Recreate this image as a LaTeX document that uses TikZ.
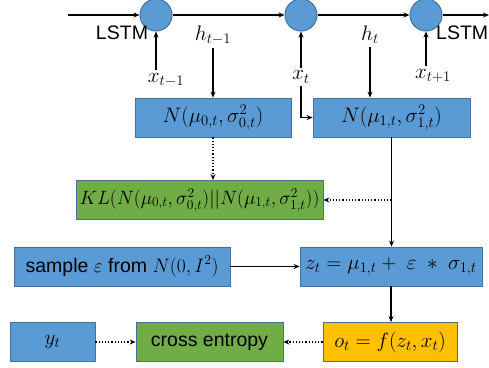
\RequirePackage{fix-cm}
\documentclass[tikz,border=0pt]{standalone}
\usepackage{amsmath}
\usepackage{fontspec}
\setmainfont{Liberation Sans}
\usetikzlibrary{arrows.meta}
\definecolor{boxblue}{HTML}{5B9BD5}
\definecolor{boxgreen}{HTML}{70AD47}
\definecolor{boxyellow}{HTML}{FFC000}
\definecolor{boxline}{HTML}{41719C}
\tikzstyle{mybox} = [draw=boxline, line width=0.8pt, rectangle,
    inner sep=0pt, minimum height=39pt, font=\fontsize{19.5}{23}\selectfont]
\tikzstyle{mathbig} = [font=\fontsize{21}{25}\selectfont]
\tikzstyle{bluebox} = [mybox, fill=boxblue]
\tikzstyle{greenbox} = [mybox, fill=boxgreen]
\tikzstyle{yellowbox} = [mybox, fill=boxyellow]
\tikzstyle{cell} = [draw=boxline, fill=boxblue, circle, line width=1pt,
    minimum size=32pt, inner sep=0pt]
\tikzstyle{lbl} = [font=\fontsize{19.5}{23}\selectfont, inner sep=3pt]
\tikzstyle{arr} = [-{Stealth[length=6pt,width=5pt]}, line width=1.2pt]
\tikzstyle{dotarr} = [arr, dotted]

\begin{document}
\begin{tikzpicture}[x=1pt,y=-1pt]
    \useasboundingbox (0,0) rectangle (489,367);
    % lstm chain
    \node [cell] (c1) at (156,15) {};
    \node [cell] (c2) at (301,15) {};
    \node [cell] (c3) at (426,15) {};
    \coordinate (in) at (68,15);
    \coordinate (out) at (489,15);
    \node [lbl] (lstm1) at (122,33) {LSTM};
    \node [lbl, anchor=west, inner sep=0pt] (lstm2) at (436,33) {LSTM};
    \node [lbl, mathbig] (htm1) at (213,35) {$h_{t-1}$};
    \node [lbl, mathbig] (ht) at (370,35) {$h_t$};
    \node [lbl, mathbig] (xtm1) at (166,80) {$x_{t-1}$};
    \node [lbl, mathbig] (xt) at (301,77) {$x_t$};
    \node [lbl, mathbig] (xtp1) at (433,76) {$x_{t+1}$};
    % boxes
    \node [bluebox, mathbig, minimum width=156pt] (N0) at (213,117.5) {$N(\mu_{0,t},\sigma_{0,t}^2)$};
    \node [bluebox, mathbig, minimum width=157pt] (N1) at (391.5,117.5) {$N(\mu_{1,t},\sigma_{1,t}^2)$};
    \node [greenbox, font=\fontsize{19.3}{23}\selectfont, minimum width=247pt] (KL) at (199.5,200) {$KL(N(\mu_{0,t},\sigma_{0,t}^2)||N(\mu_{1,t},\sigma_{1,t}^2))$};
    \node [bluebox, minimum width=216pt] (sample) at (122,266.5) {sample $\varepsilon$ from $N(0,I^2)$};
    \node [bluebox, mathbig, minimum width=182pt] (z) at (391,266.5) {$z_t=\mu_{1,t}+\ \varepsilon\ \ast\ \sigma_{1,t}$};
    \node [bluebox, mathbig, minimum width=85pt] (yt) at (52.5,342) {$y_t$};
    \node [greenbox, minimum width=147pt] (cross) at (209.5,342) {cross entropy};
    \node [yellowbox, mathbig, minimum width=134pt] (o) at (390,342) {$o_t=f(z_t,x_t)$};
    % connectors
    \draw [arr] (in) -- (c1);
    \draw [arr] (c1) -- (c2);
    \draw [arr] (c2) -- (c3);
    \draw [arr] (c3) -- (out);
    \draw [arr] (c1 |- xtm1.north) -- (c1.south);
    \draw [arr] (xt) -- (c2);
    \draw [arr] (c3 |- xtp1.north) -- (c3.south);
    \draw [arr] (htm1) -- (htm1 |- N0.north);
    \draw [arr] (ht) -- (ht |- N1.north);
    \draw [arr] (xt.south) |- (N1.west);
    \draw [dotarr] (N0) -- (N0 |- KL.north);
    \draw [arr] (N1) -- (N1 |- z.north);
    \coordinate (split) at (N1 |- KL.east);
    \draw [dotarr] (split) -- (KL.east);
    \draw [arr] (sample) -- (z);
    \draw [arr] (z) -- (z |- o.north);
    \draw [dotarr] (yt) -- (cross);
    \draw [dotarr] (o) -- (cross);
\end{tikzpicture}
\end{document}
